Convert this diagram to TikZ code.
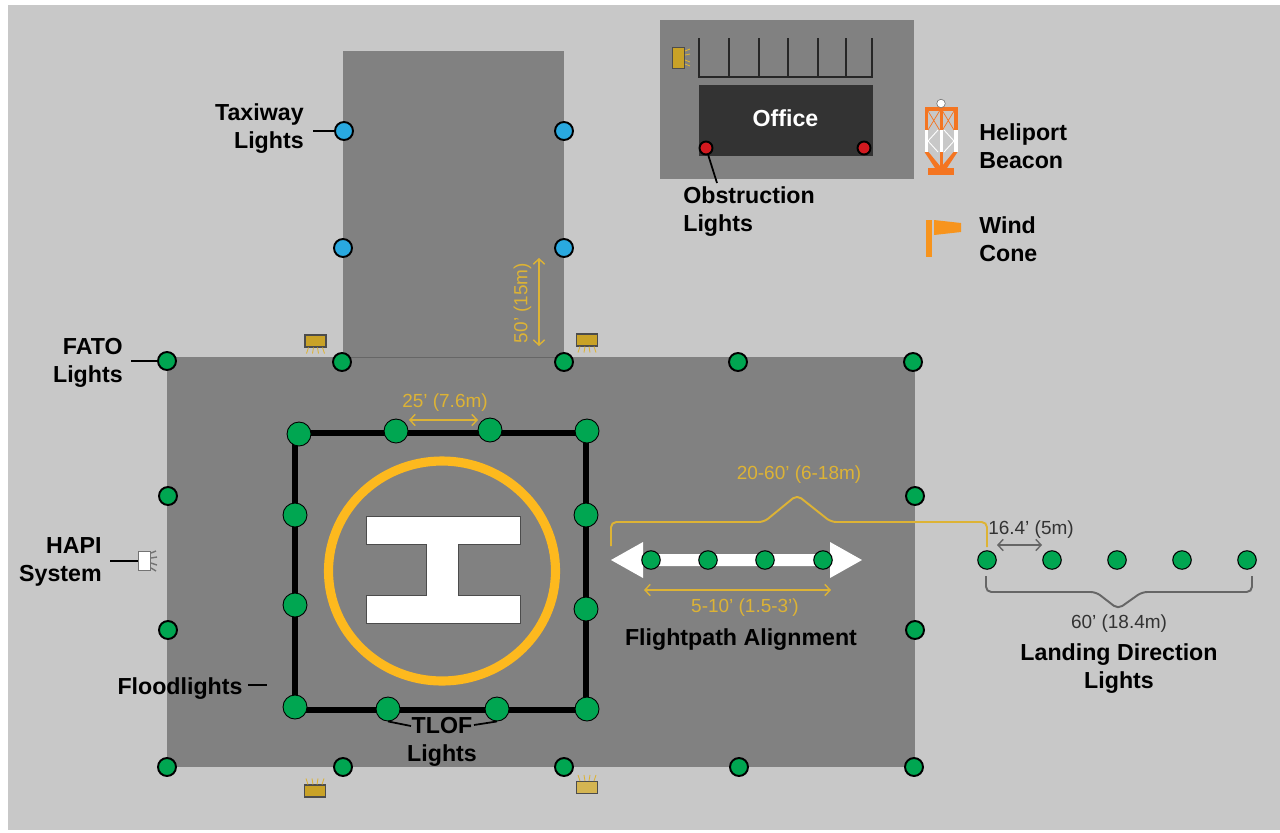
\documentclass[tikz,border=0pt]{standalone}
\usepackage{fontspec}
\setmainfont{Liberation Sans}
\usetikzlibrary{arrows.meta,calc}
\definecolor{groundgray}{HTML}{C8C8C8}
\definecolor{padgray}{HTML}{818181}
\definecolor{officegray}{HTML}{333333}
\definecolor{lightgreen}{HTML}{00A651}
\definecolor{lightblue}{HTML}{29A9E0}
\definecolor{lightred}{HTML}{D2191F}
\definecolor{ringyellow}{HTML}{FDB91E}
\definecolor{dimyellow}{HTML}{DDB335}
\definecolor{boxyellow}{HTML}{C9A227}
\definecolor{beaconorange}{HTML}{F47521}
\definecolor{coneorange}{HTML}{F7941D}
\tikzset{
  fatolight/.style={circle,draw=black,fill=lightgreen,line width=1.1pt,minimum size=0.36cm,inner sep=0pt},
  taxilight/.style={fatolight,fill=lightblue},
  tloflight/.style={circle,draw=black,fill=lightgreen,line width=0.5pt,minimum size=0.48cm,inner sep=0pt},
  pathlight/.style={circle,draw=black,fill=lightgreen,line width=0.6pt,minimum size=0.37cm,inner sep=0pt},
  obstlight/.style={circle,draw=black,fill=lightred,line width=1.1pt,minimum size=0.26cm,inner sep=0pt},
  boxlight/.style={rectangle,draw=black!70,fill=boxyellow,line width=0.6pt,minimum width=0.42cm,minimum height=0.24cm,inner sep=0pt},
  caption/.style={font=\fontsize{13.2}{15.9}\selectfont\bfseries,inner sep=0pt},
  dimlabel/.style={font=\fontsize{10.8}{12}\selectfont,text=dimyellow,inner sep=0pt},
  graylabel/.style={font=\fontsize{10.8}{12}\selectfont,text=black!80,inner sep=0pt},
  leader/.style={line width=1pt,black},
  fenceline/.style={line width=1.1pt,black!85},
  dimline/.style={line width=0.8pt,dimyellow,{Straight Barb[length=3pt,width=6.5pt]}-{Straight Barb[length=3pt,width=6.5pt]}},
  ray/.style={line width=0.5pt,dimyellow},
}

\begin{document}
\begin{tikzpicture}[x=0.02cm,y=-0.02cm]
% ground and pads
\fill[white] (0,0) rectangle (1280,832);
\fill[groundgray] (8,5) rectangle (1280,830);
\fill[padgray] (343,51) rectangle (564,358);
\fill[padgray] (167,357) rectangle (915,767);
\fill[padgray] (660,20) rectangle (914,179);
\draw[line width=0.4pt,black!60] (343,357.5) -- (564,357.5);

% office and fence
\node[fill=officegray,minimum width=3.48cm,minimum height=1.42cm,inner sep=0pt] (office) at (786,120.5) {};
\node[caption,text=white] (officetext) at (785.5,118) {Office};
\draw[fenceline] (699,38) -- (699,77) -- (872,77) -- (872,38);
\draw[fenceline] (729,38) -- (729,77);
\draw[fenceline] (759,38) -- (759,77);
\draw[fenceline] (788,38) -- (788,77);
\draw[fenceline] (818,38) -- (818,77);
\draw[fenceline] (846,38) -- (846,77);

% flood boxes
\node[boxlight,minimum width=0.24cm,minimum height=0.41cm] (parkflood) at (678.5,58) {};
\node[boxlight] (floodnw) at (315.5,341) {};
\node[boxlight] (floodne) at (587,340) {};
\node[boxlight] (floodsw) at (315,791) {};
\node[boxlight,fill=boxyellow!80!white] (floodse) at (587,787.5) {};
\draw[ray] (685,51) -- (690,49);
\draw[ray] (685,55) -- (690,54);
\draw[ray] (685,60) -- (690,62);
\draw[ray] (685,64) -- (690,66);
\foreach \dx/\sx in {-7/-9,-2/-3,2/3,7/9} {
  \draw[ray] ($(floodnw.south)+(\dx,0)$) -- ($(floodnw.south)+(\sx,6)$);
  \draw[ray] ($(floodne.south)+(\dx,0)$) -- ($(floodne.south)+(\sx,6)$);
  \draw[ray] ($(floodsw.north)+(\dx,0)$) -- ($(floodsw.north)+(\sx,-6)$);
  \draw[ray] ($(floodse.north)+(\dx,0)$) -- ($(floodse.north)+(\sx,-6)$);
}

% helipad
\draw[line width=2.9pt,black] (295,433) rectangle (586,710);
\draw[ringyellow,line width=5.2pt] (442,571) ellipse (113.5 and 110);
\draw[fill=white,draw=black!70,line width=0.2pt] (366,516) -- (520,516) -- (520,544) -- (458,544) -- (458,595) -- (520,595) -- (520,623) -- (366,623) -- (366,595) -- (426,595) -- (426,544) -- (366,544) -- cycle;

% flightpath arrow
\fill[white] (611,560) -- (643,542) -- (643,554) -- (830,554) -- (830,542) -- (862,560) -- (830,578) -- (830,566) -- (643,566) -- (643,578) -- cycle;

% lights of the taxiway
\node[taxilight] (taxinw) at (344,131) {};
\node[taxilight] (taxine) at (564,131) {};
\node[taxilight] (taxisw) at (343,248) {};
\node[taxilight] (taxise) at (564,248) {};

% lights of the FATO
\node[fatolight] (fato1) at (167,361) {};
\node[fatolight] (fato2) at (342,362) {};
\node[fatolight] (fato3) at (564,362) {};
\node[fatolight] (fato4) at (738,362) {};
\node[fatolight] (fato5) at (913,362) {};
\node[fatolight] (fato6) at (168,496) {};
\node[fatolight] (fato7) at (915,496) {};
\node[fatolight] (fato8) at (168,630) {};
\node[fatolight] (fato9) at (915,630) {};
\node[fatolight] (fato10) at (167,767) {};
\node[fatolight] (fato11) at (343,767) {};
\node[fatolight] (fato12) at (564,767) {};
\node[fatolight] (fato13) at (739,767) {};
\node[fatolight] (fato14) at (914,767) {};

% lights of the TLOF
\node[tloflight] (tlof1) at (299,434) {};
\node[tloflight] (tlof2) at (396,431) {};
\node[tloflight] (tlof3) at (490,430) {};
\node[tloflight] (tlof4) at (587,431) {};
\node[tloflight] (tlof5) at (295,515) {};
\node[tloflight] (tlof6) at (586,515) {};
\node[tloflight] (tlof7) at (295,605) {};
\node[tloflight] (tlof8) at (586,609) {};
\node[tloflight] (tlof9) at (295,707) {};
\node[tloflight] (tlof10) at (388,709) {};
\node[tloflight] (tlof11) at (497,709) {};
\node[tloflight] (tlof12) at (587,709) {};

% alignment and landing lights
\node[pathlight] (path1) at (651,560) {};
\node[pathlight] (path2) at (708,560) {};
\node[pathlight] (path3) at (765,560) {};
\node[pathlight] (path4) at (823,560) {};
\node[pathlight] (land1) at (987,560) {};
\node[pathlight] (land2) at (1052,560) {};
\node[pathlight] (land3) at (1117,560) {};
\node[pathlight] (land4) at (1182,560) {};
\node[pathlight] (land5) at (1247,560) {};

% obstruction lights
\node[obstlight] (obst1) at (706,148) {};
\node[obstlight] (obst2) at (864,148) {};

% HAPI box
\node[rectangle,draw=black!55,fill=white,line width=0.9pt,minimum width=0.24cm,minimum height=0.38cm,inner sep=0pt] (hapi) at (144.5,561) {};
\draw[line width=0.8pt,black!55] (151,553) -- (156,551);
\draw[line width=0.8pt,black!55] (151,558) -- (157,557);
\draw[line width=0.8pt,black!55] (151,563) -- (157,565);
\draw[line width=0.8pt,black!55] (151,568) -- (156,571);

% beacon
\fill[beaconorange] (924.5,107) rectangle (957.5,111);
\fill[beaconorange] (924.5,107) rectangle (928,130);
\fill[beaconorange] (954,107) rectangle (957.5,130);
\fill[beaconorange] (939.5,107) rectangle (942.5,130);
\draw[beaconorange,line width=0.4pt] (928,111) -- (939.5,130) (939.5,111) -- (928,130) (942.5,111) -- (954,130) (954,111) -- (942.5,130);
\fill[white] (924.5,130) rectangle (928,152);
\fill[white] (954,130) rectangle (957.5,152);
\fill[white] (939.5,130) rectangle (942.5,152);
\draw[white,line width=0.5pt] (928,141) -- (938,130) (928,141) -- (938,152) (954,141) -- (944,130) (954,141) -- (944,152);
\fill[beaconorange] (924.5,152) -- (928.5,152) -- (940,166) -- (940,168) -- (935,168) -- cycle;
\fill[beaconorange] (957.5,152) -- (953.5,152) -- (942,166) -- (942,168) -- (947,168) -- cycle;
\fill[beaconorange] (939.5,152) rectangle (942.5,168);
\fill[beaconorange] (928,168) rectangle (954,175);
\node[circle,draw=black!60,fill=white,line width=0.3pt,minimum size=0.17cm,inner sep=0pt] (beaconlamp) at (941,103.5) {};

% wind cone
\fill[coneorange] (926,220) rectangle (932,257);
\fill[coneorange] (934,220) -- (961,223) -- (961,232) -- (934,235) -- cycle;

% captions
\node[caption,anchor=east,align=right] (taxilbl) at (304,128.5) {Taxiway\\Lights};
\node[caption,anchor=east,align=right] (fatolbl) at (123,362.5) {FATO\\Lights};
\node[caption,anchor=east,align=right] (hapilbl) at (102,561.5) {HAPI\\System};
\node[caption] (floodlbl) at (180,688.5) {Floodlights};
\node[caption,align=center] (tloflbl) at (442,742) {TLOF\\Lights};
\node[caption,anchor=west,align=left] (obstlbl) at (683,211.5) {Obstruction\\Lights};
\node[caption,anchor=west,align=left] (beaconlbl) at (979,146) {Heliport\\Beacon};
\node[caption,anchor=west,align=left] (conelbl) at (979,239) {Wind\\Cone};
\node[caption] (pathlbl) at (741,639.5) {Flightpath Alignment};
\node[caption,align=center] (landlbl) at (1119,668.5) {Landing Direction\\Lights};

% leaders
\coordinate (taxiend) at (313,131);
\coordinate (fatoend) at (131,361);
\coordinate (hapiend) at (110,561);
\coordinate (floodstart) at (248,685);
\coordinate (floodend) at (267,685);
\coordinate (obstend) at (717,183);
\coordinate (tlofleft) at (411,726);
\coordinate (tlofright) at (474,725);
\draw[leader] (taxiend) -- (taxinw);
\draw[leader] (fatoend) -- (fato1);
\draw[leader] (hapiend) -- (hapi);
\draw[leader] (floodstart) -- (floodend);
\draw[leader] (obstend) -- (obst1);
\draw[leader] (tlofleft) -- (tlof10.south);
\draw[leader] (tlofright) -- (tlof11.south);

% dimensions
\coordinate (d25a) at (409,420);
\coordinate (d25b) at (478,420);
\coordinate (d50a) at (539,258);
\coordinate (d50b) at (539,346);
\coordinate (d5a) at (644,590);
\coordinate (d5b) at (831,590);
\coordinate (d16a) at (997,545);
\coordinate (d16b) at (1042,545);
\draw[dimline] (d25a) -- (d25b);
\draw[dimline] (d50a) -- (d50b);
\draw[dimline] (d5a) -- (d5b);
\draw[dimline,black!60] (d16a) -- (d16b);
\node[dimlabel] (l25) at (445,402.5) {25’ (7.6m)};
\node[dimlabel,rotate=90] (l50) at (522.5,303) {50’ (15m)};
\node[dimlabel] (l5) at (745,607.5) {5-10’ (1.5-3’)};
\node[dimlabel] (l20) at (799,474.5) {20-60’ (6-18m)};
\node[graylabel] (l16) at (1031,529.5) {16.4’ (5m)};
\node[graylabel] (l60) at (1119,623.5) {60’ (18.4m)};

% braces
\draw[dimyellow,line width=1.1pt,rounded corners=3pt] (611,546) -- (611,522) -- (764,522) -- (797,495) -- (831,522) -- (987,522) -- (987,547);
\draw[black!60,line width=1.1pt,rounded corners=3pt] (986,576) -- (986,592) -- (1096,592) -- (1118,609) -- (1142,592) -- (1252,592) -- (1252,576);

\end{tikzpicture}
\end{document}
